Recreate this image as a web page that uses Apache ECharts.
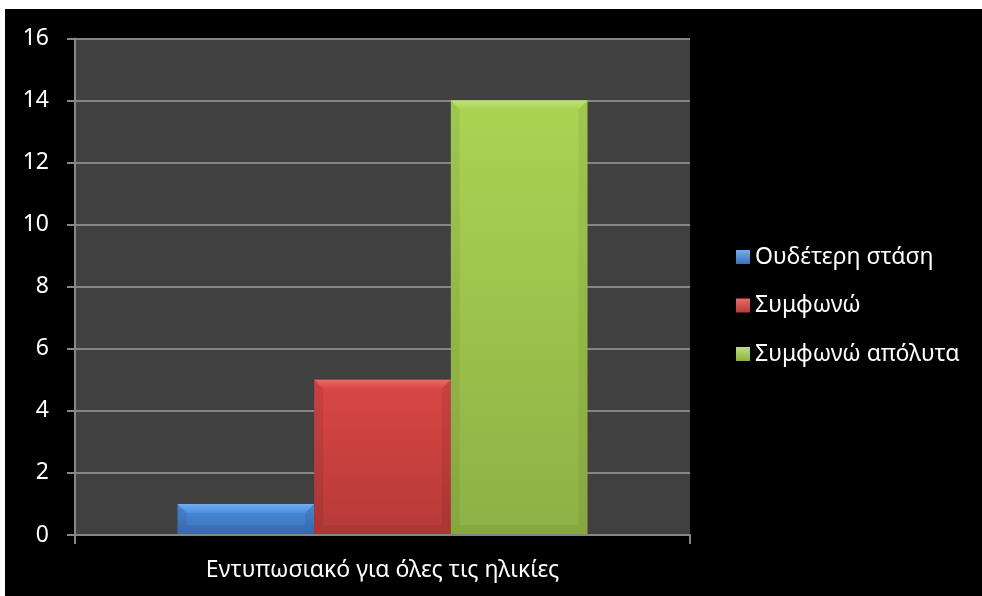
<!DOCTYPE html>
<html>
<head>
<meta charset="utf-8">
<script src="https://cdn.jsdelivr.net/npm/echarts@6/dist/echarts.min.js"></script>
<style>
  html, body { margin: 0; padding: 0; background: #ffffff; }
  #chart { position: absolute; left: 5px; top: 9px; width: 977px; height: 587px; }
</style>
</head>
<body>
<div id="chart"></div>
<script>
// Survey answers for one statement
const categories = ['Εντυπωσιακό για όλες τις ηλικίες'];
const seriesNames = ['Ουδέτερη στάση', 'Συμφωνώ', 'Συμφωνώ απόλυτα'];
const neutral = [1];
const agree = [5];
const stronglyAgree = [14];
const yTicks = [0, 2, 4, 6, 8, 10, 12, 14, 16];

const seriesValues = [neutral, agree, stronglyAgree];
const palette = [
  { top: '#4b8fe0', bottom: '#3a70b8', light: '#72aef0', side: 'rgba(0,0,0,0.07)', low: 'rgba(0,0,0,0.06)' },
  { top: '#d94646', bottom: '#b63a38', light: '#ea6a66', side: 'rgba(0,0,0,0.07)', low: 'rgba(0,0,0,0.06)' },
  { top: '#a9d453', bottom: '#8fb145', light: '#bde170', side: 'rgba(0,0,0,0.06)', low: 'rgba(0,0,0,0.05)' }
];

// Bars with a bevelled face, placed side by side inside the category band
function bevelBar(seriesIdx) {
  return function (params, api) {
    const cat = api.value(0);
    const v = api.value(1);
    const base = api.coord([cat, 0]);
    const top = api.coord([cat, v]);
    const band = api.size([1, 0])[0];
    const w = band * 2 / 9;
    const x0 = base[0] - 1.5 * w + seriesIdx * w;
    const x1 = x0 + w;
    const y0 = top[1];
    const y1 = base[1] - 1;
    const b = Math.min(9, (y1 - y0) / 2);
    const c = palette[seriesIdx];
    return {
      type: 'group',
      children: [
        { type: 'rect', shape: { x: x0, y: y0, width: w, height: y1 - y0 },
          style: { fill: new echarts.graphic.LinearGradient(0, 0, 0, 1, [
            { offset: 0, color: c.top }, { offset: 1, color: c.bottom }]) } },
        { type: 'polygon', shape: { points: [[x0, y0], [x1, y0], [x1 - b, y0 + b], [x0 + b, y0 + b]] },
          style: { fill: new echarts.graphic.LinearGradient(0, 0, 0, 1, [
            { offset: 0, color: c.light }, { offset: 1, color: c.top }]) } },
        { type: 'polygon', shape: { points: [[x0, y0], [x0 + b, y0 + b], [x0 + b, y1 - b], [x0, y1]] },
          style: { fill: c.side } },
        { type: 'polygon', shape: { points: [[x1, y0], [x1, y1], [x1 - b, y1 - b], [x1 - b, y0 + b]] },
          style: { fill: c.side } },
        { type: 'polygon', shape: { points: [[x0, y1], [x0 + b, y1 - b], [x1 - b, y1 - b], [x1, y1]] },
          style: { fill: c.low } }
      ]
    };
  };
}

const chart = echarts.init(document.getElementById('chart'));
const font = 'Noto Sans, Open Sans, sans-serif';

chart.setOption({
  backgroundColor: '#000000',
  animation: false,
  textStyle: { fontFamily: font },
  grid: {
    left: 70, top: 29.5, right: 292, bottom: 61,
    show: true, backgroundColor: '#404040', borderWidth: 0
  },
  legend: {
    orient: 'vertical',
    left: 726,
    top: 231,
    itemWidth: 14,
    itemHeight: 14,
    itemGap: 24.5,
    icon: 'rect',
    textStyle: { color: '#ffffff', fontSize: 23, lineHeight: 24, fontFamily: font },
    data: seriesNames.map((name, i) => ({
      name: name,
      itemStyle: { color: new echarts.graphic.LinearGradient(0, 0, 0, 1, [
        { offset: 0, color: palette[i].light }, { offset: 1, color: palette[i].bottom }]) }
    }))
  },
  xAxis: {
    type: 'category',
    data: categories,
    axisLine: { lineStyle: { color: '#868686', width: 2 } },
    axisTick: { show: true, length: 9, lineStyle: { color: '#868686', width: 2 } },
    axisLabel: { color: '#ffffff', fontSize: 23, margin: 24, fontFamily: font },
    splitLine: { show: false }
  },
  yAxis: {
    type: 'value',
    min: yTicks[0],
    max: yTicks[yTicks.length - 1],
    interval: yTicks[1] - yTicks[0],
    axisLine: { show: true, lineStyle: { color: '#868686', width: 2 } },
    axisTick: { show: true, length: 8, lineStyle: { color: '#868686', width: 2 } },
    axisLabel: { color: '#ffffff', fontSize: 23, margin: 26, fontFamily: font },
    splitLine: { lineStyle: { color: '#868686', width: 2 } }
  },
  series: seriesNames.map((name, i) => ({
    name: name,
    type: 'custom',
    renderItem: bevelBar(i),
    itemStyle: { color: palette[i].top },
    encode: { x: 0, y: 1 },
    data: seriesValues[i].map((v, k) => [k, v])
  }))
});
</script>
</body>
</html>
